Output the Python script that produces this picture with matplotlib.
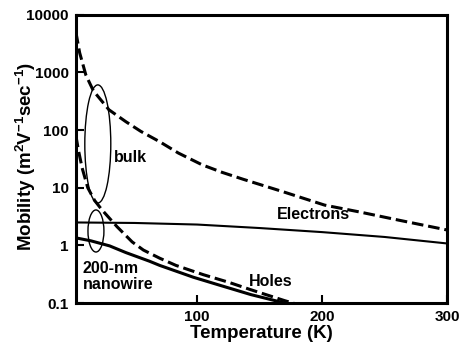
import numpy as np
import matplotlib

matplotlib.use('Agg')
import matplotlib.pyplot as plt
from matplotlib.patches import Ellipse

plt.rcParams['font.family'] = ['Liberation Sans', 'DejaVu Sans']
plt.rcParams['font.weight'] = 'bold'
plt.rcParams['mathtext.fontset'] = 'custom'
plt.rcParams['mathtext.bf'] = 'Liberation Sans:bold'
plt.rcParams['mathtext.rm'] = 'Liberation Sans:bold'
plt.rcParams['mathtext.default'] = 'bf'

# bulk electrons (dashed)
t_e_bulk = np.array([3, 6, 11, 17, 29.5, 43, 55, 70, 85, 104, 120, 137, 169, 202, 230, 261, 300])
mu_e_bulk = np.array([5000, 2200, 900, 480, 225, 140, 95, 63, 40, 25, 18.5, 14, 8.5, 5.0, 3.8, 2.75, 1.85])

# bulk holes (dashed)
t_h_bulk = np.array([3, 5, 8, 12.5, 18, 24, 36, 48, 57, 70, 83, 105, 125, 143, 170, 180])
mu_h_bulk = np.array([80, 45, 22, 10, 6, 4.1, 2.1, 1.15, 0.83, 0.6, 0.45, 0.31, 0.23, 0.17, 0.11, 0.095])

# 200-nm nanowire electrons (thin solid)
t_e_nw = np.array([3, 50, 100, 150, 200, 250, 300])
mu_e_nw = np.array([2.5, 2.45, 2.3, 2.0, 1.7, 1.4, 1.08])

# 200-nm nanowire holes (thick solid)
t_h_nw = np.array([3, 15, 30, 43, 62, 70, 97, 116, 143, 170, 180])
mu_h_nw = np.array([1.35, 1.2, 0.98, 0.75, 0.53, 0.45, 0.28, 0.21, 0.14, 0.1, 0.092])

y_ticks = [0.1, 1, 10, 100, 1000, 10000]
y_tick_labels = ['0.1', '1', '10', '100', '1000', '10000']
x_ticks = [100, 200, 300]

fig = plt.figure(figsize=(4.6, 3.54), dpi=100)
ax = fig.add_axes([0.165, 0.144, 0.807, 0.814])

ax.plot(t_e_bulk, mu_e_bulk, 'k--', lw=2.2, dashes=(3.8, 1.6))
ax.plot(t_h_bulk, mu_h_bulk, 'k--', lw=2.2, dashes=(3.8, 1.6))
ax.plot(t_e_nw, mu_e_nw, 'k-', lw=1.5)
ax.plot(t_h_nw, mu_h_nw, 'k-', lw=2.2)

ax.set_yscale('log')
ax.set_xlim(3, 300)
ax.set_ylim(0.1, 10000)
ax.set_yticks(y_ticks)
ax.set_yticklabels(y_tick_labels)
ax.set_xticks(x_ticks)
ax.minorticks_off()
ax.tick_params(direction='in', length=6, width=1.5, labelsize=11, pad=5)
for s in ax.spines.values():
    s.set_linewidth(2.2)

ax.set_xlabel('Temperature (K)', fontsize=13.5, fontweight='bold', labelpad=1)
ax.set_ylabel('Mobility (m$^{2}$V$^{-1}$sec$^{-1}$)', fontsize=13.5, fontweight='bold', va='center')
ax.yaxis.set_label_coords(-0.135, 0.51)

# ellipses grouping the curves
ax.add_patch(Ellipse((0.059, 0.552), 0.070, 0.410, transform=ax.transAxes,
                     fill=False, lw=1.0, ec='k'))
ax.add_patch(Ellipse((0.054, 0.25), 0.043, 0.146, transform=ax.transAxes,
                     fill=False, lw=1.0, ec='k'))

ax.text(47, 34, 'bulk', fontsize=11.5, fontweight='bold', ha='center', va='center')
ax.text(193, 3.4, 'Electrons', fontsize=11.5, fontweight='bold', ha='center', va='center')
ax.text(159, 0.24, 'Holes', fontsize=11.5, fontweight='bold', ha='center', va='center')
ax.text(8.5, 0.29, '200-nm\nnanowire', fontsize=11.5, fontweight='bold', ha='left', va='center',
        linespacing=1.1)

fig.savefig('out.png', dpi=100)
